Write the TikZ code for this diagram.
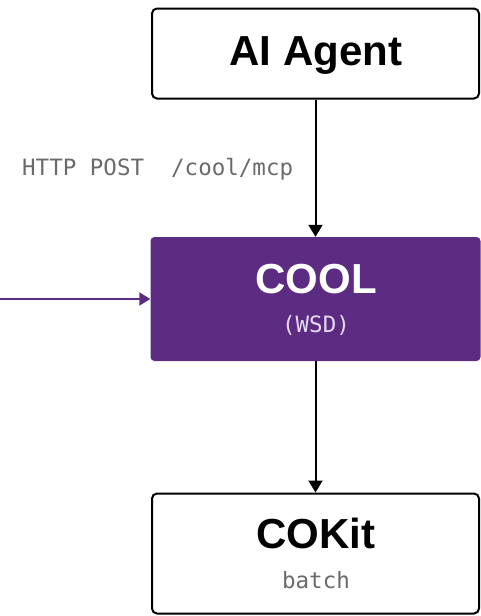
\documentclass[tikz,border=0pt]{standalone}
\usepackage{fontspec}
\setmainfont{Liberation Sans}
\newfontfamily\codefont{DejaVu Sans Mono}
\usepackage{xcolor}
\usetikzlibrary{arrows.meta}
\definecolor{coolpurple}{HTML}{5B2C82}
\definecolor{subgray}{HTML}{6A6A6A}
\definecolor{lavender}{HTML}{E6DAF2}

\begin{document}
\begin{tikzpicture}[x=1pt,y=1pt,
  whitebox/.style={draw=black,line width=2pt,fill=white,rounded corners=5pt,
    minimum width=327pt,inner sep=0pt},
  purplebox/.style={fill=coolpurple,rounded corners=4pt,
    minimum width=330pt,minimum height=124pt,inner sep=0pt},
  title/.style={font=\bfseries\fontsize{42}{42}\selectfont,anchor=base,inner sep=0pt},
  code/.style={font=\codefont\fontsize{22.5}{22.5}\selectfont,anchor=base,inner sep=0pt},
  flow/.style={line width=2pt,-{Triangle[length=12pt,width=14pt]}}]
  \useasboundingbox (0,0) rectangle (480,-616);

  % Boxes
  \node[whitebox,minimum height=90pt] (agent) at (315.5,-53.5) {};
  \node[purplebox] (cool) at (315.5,-299) {};
  \node[whitebox,minimum height=120pt] (cokit) at (315.5,-553.5) {};

  % Texts
  \node[title] (agenttitle) at (316,-65) {AI Agent};
  \node[title,text=white] (cooltitle) at (316,-293) {COOL};
  \node[code,text=lavender] (coolsub) at (316,-332) {(WSD)};
  \node[title] (cokittitle) at (316,-548) {COKit};
  \node[code,text=subgray] (cokitsub) at (316,-588) {batch};
  \node[code,text=subgray,anchor=base west] (httplabel) at (22,-175) {HTTP POST\ \ /cool/mcp};

  % Connectors
  \coordinate (leftin) at (0,-299);
  \draw[flow] (agent.south) -- (cool.north);
  \draw[flow] (cool.south) -- (cokit.north);
  \draw[flow,draw=coolpurple,fill=coolpurple,-{Triangle[length=11pt,width=13pt]}] (leftin) -- (cool.west);
\end{tikzpicture}
\end{document}
